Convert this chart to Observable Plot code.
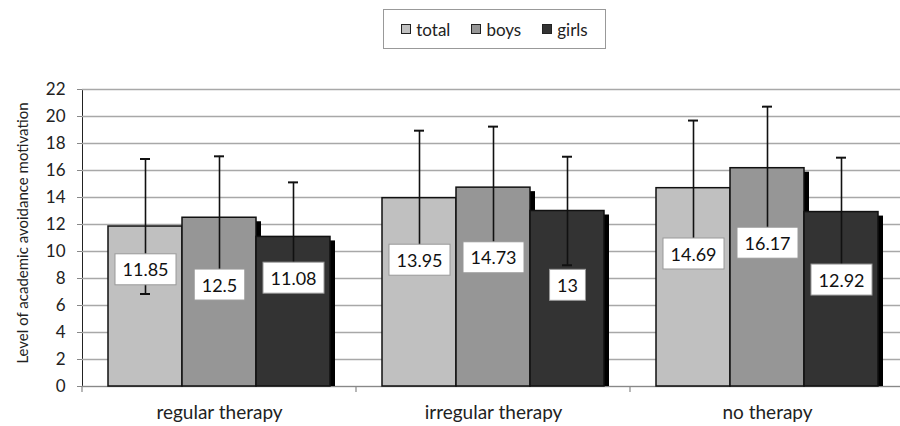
<!DOCTYPE html>
<html>
<head>
<meta charset="utf-8">
<script src="https://cdn.jsdelivr.net/npm/d3@7"></script>
<script src="https://cdn.jsdelivr.net/npm/@observablehq/plot@0.6"></script>
<style>
  html, body { margin: 0; padding: 0; background: #fff; }
  #wrap { position: relative; width: 900px; height: 426px; font-family: Lato, "Open Sans", sans-serif; color: #222; }
  #legend { position: absolute; left: 383px; top: 9px; width: 221px; height: 38px; border: 1px solid #999;
            display: flex; align-items: center; justify-content: center; gap: 21px; font-size: 17px; }
  #legend .item { display: flex; align-items: center; gap: 5px; }
  #legend .sw { width: 8px; height: 8px; border: 1.5px solid #222; }
  #chart { position: absolute; left: 0; top: 56px; }
  svg g[aria-label="y-axis tick"] { stroke: #888; }
  svg g[aria-label="y-axis tick"] path { stroke: #888; }
  svg g[aria-label="fx-axis tick label"] { font-size: 19px; }
  svg g[aria-label="fx-axis tick label"] text { font-size: 19px; }
  svg g[aria-label="y-axis tick label"] text { font-size: 17px; }
</style>
</head>
<body>
<div id="wrap">
  <div id="legend"></div>
  <div id="chart"></div>
</div>
<script>
const categories = ["regular therapy", "irregular therapy", "no therapy"];
const groups = ["total", "boys", "girls"];
const groupColors = ["#c0c0c0", "#969696", "#333333"];

const totalMean = [11.85, 13.95, 14.69];
const boysMean  = [12.5, 14.73, 16.17];
const girlsMean = [11.08, 13, 12.92];

const totalSD = [5.0, 5.0, 5.01];
const boysSD  = [4.55, 4.52, 4.56];
const girlsSD = [4.04, 4.02, 4.03];

// where the value labels sit (axis units)
const totalLabelAt = [8.59, 9.30, 9.76];
const boysLabelAt  = [7.46, 9.48, 10.56];
const girlsLabelAt = [7.97, 7.44, 7.83];

const yTicks = [0, 2, 4, 6, 8, 10, 12, 14, 16, 18, 20, 22];
const yTitle = "Level of academic avoidance motivation";

const means = [totalMean, boysMean, girlsMean];
const sds = [totalSD, boysSD, girlsSD];
const labelAts = [totalLabelAt, boysLabelAt, girlsLabelAt];

const rows = categories.flatMap((c, i) => groups.map((g, j) => ({
  cat: c, group: g, mean: means[j][i], sd: sds[j][i], labelAt: labelAts[j][i]
})));

// legend
const legend = document.getElementById("legend");
groups.forEach((g, j) => {
  const it = document.createElement("div"); it.className = "item";
  const sw = document.createElement("div"); sw.className = "sw"; sw.style.background = groupColors[j];
  const tx = document.createElement("span"); tx.textContent = g;
  it.appendChild(sw); it.appendChild(tx); legend.appendChild(it);
});

const chart = Plot.plot({
  width: 900,
  height: 370,
  marginLeft: 82,
  marginRight: -4,
  marginTop: 33,
  marginBottom: 40,
  style: { fontFamily: "Lato, 'Open Sans', sans-serif", fontSize: "16px", color: "#222", background: "#fff" },
  fx: { domain: categories, padding: 0, label: null, tickSize: 0, tickPadding: 19 },
  x: { domain: groups, paddingInner: 0, paddingOuter: 0.335, axis: null },
  y: { domain: [0, 22], ticks: yTicks, tickSize: 5, tickPadding: 12, label: null, line: true },
  color: { domain: groups, range: groupColors },
  marks: [
    Plot.gridY(yTicks, { stroke: "#a8a8a8", strokeOpacity: 1, strokeWidth: 1.3 }),
    Plot.ruleY([0], { stroke: "#888", strokeWidth: 1.2 }),
    Plot.barY(rows, { fx: "cat", x: "group", y: "mean", fill: "#000", dx: 5, insetTop: 4 }),
    Plot.barY(rows, { fx: "cat", x: "group", y: "mean", fill: "group", stroke: "#111", strokeWidth: 1.5 }),
    Plot.ruleX(rows, { fx: "cat", x: "group", y1: d => d.mean - d.sd, y2: d => d.mean + d.sd, stroke: "#111", strokeWidth: 1.6 }),
    Plot.tickY(rows, { fx: "cat", x: "group", y: d => d.mean + d.sd, stroke: "#111", strokeWidth: 2, inset: 32 }),
    Plot.tickY(rows, { fx: "cat", x: "group", y: d => d.mean - d.sd, stroke: "#111", strokeWidth: 2, inset: 32 }),
    Plot.text(rows, { fx: "cat", x: "group", y: "labelAt", text: d => String(d.mean), fontSize: 18, fill: "#111", ariaDescription: "value-label" }),
    Plot.text([{ cat: categories[0] }], { fx: "cat", frameAnchor: "left", textAnchor: "middle", text: () => yTitle, rotate: -90, dx: -59, dy: -5, fontSize: 15, fill: "#222" })
  ]
});
document.getElementById("chart").appendChild(chart);

// white boxes behind value labels
const svgNS = "http://www.w3.org/2000/svg";
chart.querySelectorAll('g[aria-description="value-label"] text').forEach(t => {
  const b = t.getBBox();
  const r = document.createElementNS(svgNS, "rect");
  const h = 31;
  r.setAttribute("x", b.x - 7.5);
  r.setAttribute("y", b.y + b.height / 2 - h / 2);
  r.setAttribute("width", b.width + 15);
  r.setAttribute("height", h);
  r.setAttribute("fill", "#fff");
  r.setAttribute("stroke", "#999");
  r.setAttribute("stroke-width", 1);
  if (t.getAttribute("transform")) r.setAttribute("transform", t.getAttribute("transform"));
  t.parentNode.insertBefore(r, t);
});

// small ticks on the category axis at band boundaries, from Plot's fx scale
const fx = chart.scale("fx");
const yS = chart.scale("y");
const y0 = yS.apply ? yS.apply(0) : 330;
const step = (fx.range[1] - fx.range[0]) / categories.length;
const tg = document.createElementNS(svgNS, "g");
for (let i = 0; i <= categories.length; i++) {
  const xx = fx.range[0] + i * step;
  const l = document.createElementNS(svgNS, "line");
  l.setAttribute("x1", xx); l.setAttribute("x2", xx);
  l.setAttribute("y1", y0); l.setAttribute("y2", y0 + 6);
  l.setAttribute("stroke", "#888"); l.setAttribute("stroke-width", 1.2);
  tg.appendChild(l);
}
chart.appendChild(tg);
</script>
</body>
</html>
